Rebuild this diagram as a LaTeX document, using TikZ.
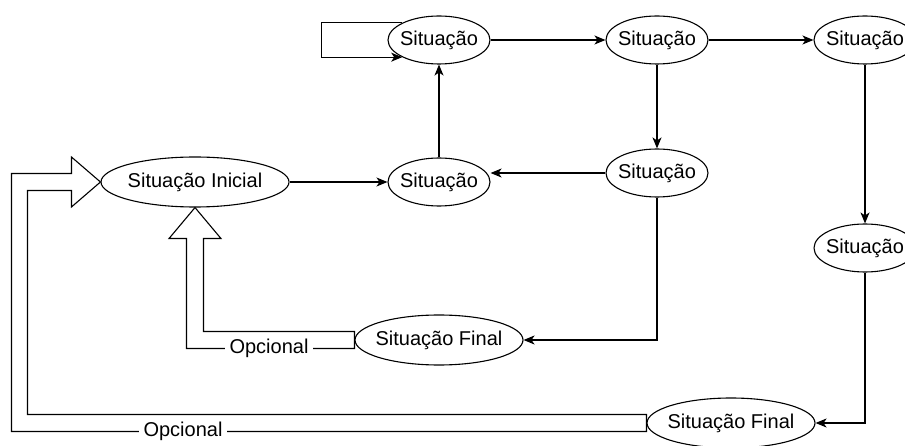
\documentclass[tikz,border=0pt]{standalone}
\usepackage{fontspec}
\setmainfont{Liberation Sans}
\usepackage{tikz}
\usetikzlibrary{shapes.geometric,arrows.meta}
\tikzset{
  sit/.style={ draw, ellipse, minimum width=102, minimum height=48, inner xsep=-4pt, inner ysep=0pt }
}
\tikzset{
  sitwide/.style={ sit, minimum width=168, minimum height=50 }
}
\tikzset{
  hollow/.style={ draw, line join=miter }
}
\tikzset{
  optlbl/.style={ fill=white, inner xsep=5pt, inner ysep=1pt }
}
\tikzset{
  flow/.style={ -{Stealth[length=11pt,width=9pt,inset=3pt]} }
}

\begin{document}
\begin{tikzpicture}[y=-1pt, x=1pt, line width=1.1pt, font=\fontsize{20}{24}\selectfont]
      \useasboundingbox (0, 0) rectangle (905, 446);
      \node[sit, minimum width=188, minimum height=50] (init) at (195, 182) {Situação Inicial};
      \node[sit] (s1) at (439, 40) {Situação};
      \node[sit] (s2) at (657, 40) {Situação};
      \node[sit] (s3) at (865, 40) {Situação};
      \node[sit] (s4) at (657, 173) {Situação};
      \node[sit] (s5) at (439, 182) {Situação};
      \node[sit] (s6) at (865, 248) {Situação};
      \node[sitwide] (f1) at (439, 340) {Situação Final};
      \node[sitwide] (f2) at (731, 423) {Situação Final};

      \draw[flow] (s1.155) -- ++(-81, 0) |- (s1.205);
      \draw[flow] (s1.east) -- (s2.west);
      \draw[flow] (s2.east) -- (s3.west);
      \draw[flow] (s2.south) -- (s4.north);
      \draw[flow] (s3.south) -- (s6.north);
      \draw[flow] (init.east) -- (s5.west);
      \draw[flow] (s5.north) -- (s1.south);
      \draw[flow] (s4.west) -- (s4.west -| s5.east);
      \draw[flow] (s4.south) |- (f1.east);
      \draw[flow] (s6.south) |- (f2.east);

      % optional return arrows, drawn as outlines
      \draw[hollow] ([yshift=8.5]f1.west) -| ([xshift=8.5, yshift=-31]init.south)
        -- ++(17.5, 0) -- (init.south) -- ++(-26, 31) -- ++(17.5, 0)
        |- ([yshift=-8.5]f1.west) -- cycle;
      \node[optlbl] (opt1) at (269, 348.5) {Opcional};

      \draw[hollow] ([yshift=8.5]f2.west) -| ([xshift=-73, yshift=-8.5]init.west)
        -- ++(44, 0) -- ++(0, 16.5) -- (init.west) -- ++(-29, -25) -- ++(0, 16.5)
        -- ++(-60, 0) |- ([yshift=-8.5]f2.west) -- cycle;
      \node[optlbl] (opt2) at (183, 431.5) {Opcional};
    \end{tikzpicture}
\end{document}
